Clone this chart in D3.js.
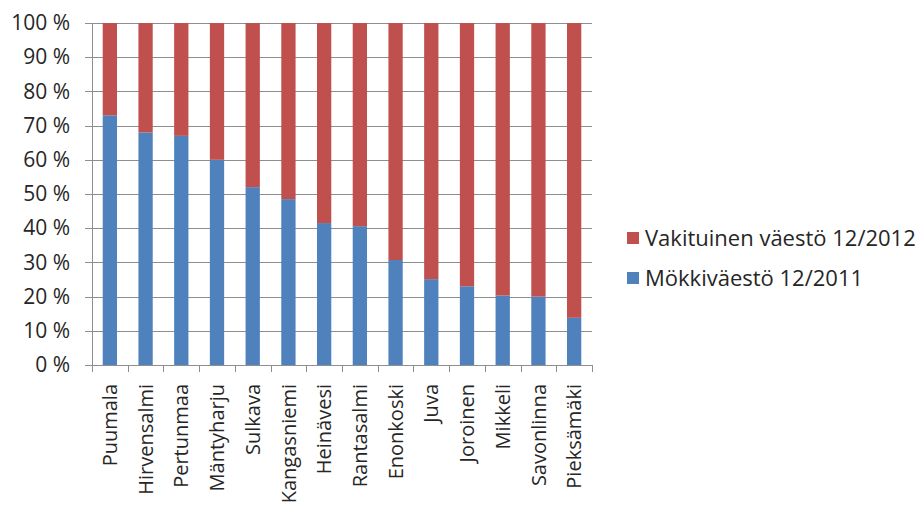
<!DOCTYPE html>
<html>
<head>
<meta charset="utf-8">
<script src="https://cdn.jsdelivr.net/npm/d3@7"></script>
<style>
  body { margin: 0; background: #fff; }
  text { font-family: "Open Sans", sans-serif; fill: #262626; }
</style>
</head>
<body>
<div id="chart"></div>
<script>
// Kunnat (categories)
const municipalities = ['Puumala', 'Hirvensalmi', 'Pertunmaa', 'Mäntyharju', 'Sulkava', 'Kangasniemi',
  'Heinävesi', 'Rantasalmi', 'Enonkoski', 'Juva', 'Joroinen', 'Mikkeli', 'Savonlinna', 'Pieksämäki'];

// Mökkiväestö share (%)
const cottageShare = [73, 68, 67, 60, 52, 48.5, 41.5, 40.6, 30.7, 25.1, 23, 20.3, 20, 13.8];

// Vakituinen väestö is the rest of 100 %
const residentShare = cottageShare.map(v => 100 - v);

const seriesNames = ['Mökkiväestö 12/2011', 'Vakituinen väestö 12/2012'];
const seriesColors = ['#4F81BD', '#C0504D'];
const yTicks = [0, 10, 20, 30, 40, 50, 60, 70, 80, 90, 100];

const W = 917, H = 505;
const margin = { top: 23, right: 325, bottom: 140, left: 92 };
const width = W - margin.left - margin.right;
const height = H - margin.top - margin.bottom;

const svg = d3.select('#chart').append('svg')
  .attr('width', W)
  .attr('height', H);

const g = svg.append('g')
  .attr('transform', `translate(${margin.left},${margin.top})`);

// Scales
const x = d3.scaleBand()
  .domain(municipalities)
  .range([0, width])
  .paddingInner(0.6)
  .paddingOuter(0.3);

const y = d3.scaleLinear()
  .domain([0, 100])
  .range([height, 0]);

const gridColor = '#8e8e8e';

// Horizontal gridlines (they also make the y tick marks)
g.append('g')
  .selectAll('line')
  .data(yTicks)
  .enter().append('line')
  .attr('x1', -7)
  .attr('x2', width)
  .attr('y1', d => Math.round(y(d)) + 0.5)
  .attr('y2', d => Math.round(y(d)) + 0.5)
  .attr('stroke', gridColor)
  .attr('stroke-width', 1);

// Stack the two series
const rows = municipalities.map((m, i) => ({ name: m, cottage: cottageShare[i], resident: residentShare[i] }));
const stack = d3.stack().keys(['cottage', 'resident']);
const layers = stack(rows);

g.selectAll('.layer')
  .data(layers)
  .enter().append('g')
  .attr('class', 'layer')
  .attr('fill', (d, i) => seriesColors[i])
  .selectAll('rect')
  .data(d => d)
  .enter().append('rect')
  .attr('x', d => x(d.data.name))
  .attr('width', x.bandwidth())
  .attr('y', d => y(d[1]))
  .attr('height', d => y(d[0]) - y(d[1]));

// Y axis
const yAxis = g.append('g')
  .call(d3.axisLeft(y)
    .tickValues(yTicks)
    .tickSize(0)
    .tickPadding(22)
    .tickFormat(d => d + ' %'));
yAxis.select('.domain')
  .attr('stroke', gridColor)
  .attr('d', `M0.5,0V${height}`);
yAxis.selectAll('text')
  .style('font-size', '21px')
  .style('font-family', '"Open Sans", sans-serif')
  .attr('fill', '#262626');

// X axis line and ticks at band boundaries
g.append('line')
  .attr('x1', 0)
  .attr('x2', width)
  .attr('y1', height + 0.5)
  .attr('y2', height + 0.5)
  .attr('stroke', gridColor);

const boundaries = d3.range(municipalities.length + 1).map(i => i * x.step());
g.append('g')
  .selectAll('line')
  .data(boundaries)
  .enter().append('line')
  .attr('x1', d => Math.round(d) + 0.5)
  .attr('x2', d => Math.round(d) + 0.5)
  .attr('y1', height)
  .attr('y2', height + 7)
  .attr('stroke', gridColor);

// Rotated category labels
g.append('g')
  .selectAll('text')
  .data(municipalities)
  .enter().append('text')
  .attr('transform', d => `translate(${x(d) + x.bandwidth() / 2},${height + 19}) rotate(-90)`)
  .attr('dy', '0.36em')
  .attr('text-anchor', 'end')
  .style('font-size', '20px')
  .text(d => d);

// Legend (resident series first, as in the original)
const legendItems = [
  { name: seriesNames[1], color: seriesColors[1] },
  { name: seriesNames[0], color: seriesColors[0] }
];
const legend = svg.append('g')
  .attr('transform', 'translate(627,238)');

const item = legend.selectAll('g')
  .data(legendItems)
  .enter().append('g')
  .attr('transform', (d, i) => `translate(0,${i * 40})`);

item.append('rect')
  .attr('x', 0)
  .attr('y', -6)
  .attr('width', 12)
  .attr('height', 12)
  .attr('fill', d => d.color);

item.append('text')
  .attr('x', 18)
  .attr('dy', '0.36em')
  .style('font-size', '22px')
  .text(d => d.name);
</script>
</body>
</html>
